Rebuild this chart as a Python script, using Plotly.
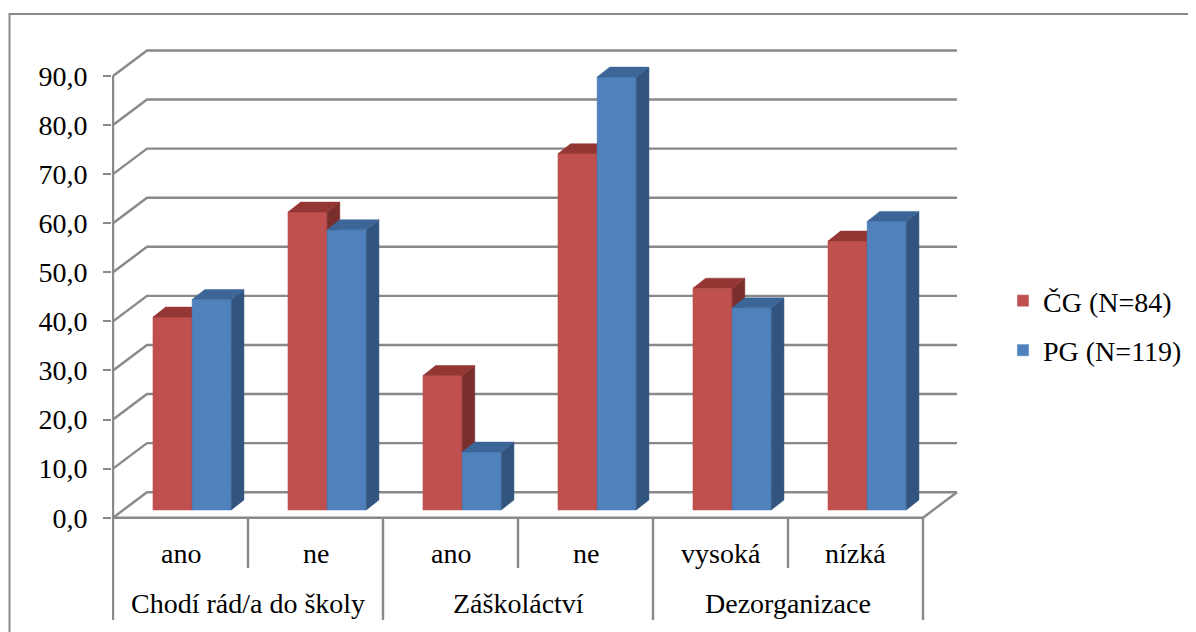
import plotly.graph_objects as go

# data (percent of each group)
SUBCATEGORIES = ["ano", "ne", "ano", "ne", "vysoká", "nízká"]
GROUPS = ["Chodí rád/a do školy", "Záškoláctví", "Dezorganizace"]
CG = [39.3, 60.7, 27.4, 72.6, 45.2, 54.8]
PG = [42.9, 57.1, 11.8, 88.2, 41.2, 58.8]
SERIES_NAMES = ["ČG (N=84)", "PG (N=119)"]
Y_TICKS = [0, 10, 20, 30, 40, 50, 60, 70, 80, 90]

# front, side, top face colours
FACE_COLORS = [
    ("#C0504D", "#7A2F2D", "#943634"),
    ("#4F81BD", "#32557F", "#3C6697"),
]
GRID = "#898989"
FONT = "Liberation Serif"
FONT_SIZE = 28

# page body has an 8px margin, so the figure starts at (8, 8) on screen
PAGE_OFF = 8
SCREEN_W, SCREEN_H = 1196, 632
W, H = SCREEN_W - PAGE_OFF, SCREEN_H - PAGE_OFF
PLOT_L, PLOT_T = 112, 40  # screen pixels

# screen-pixel geometry of the pseudo 3-D frame
PX_X0, PX_CAT = 113, 135.0
PX_Y0, PX_UNIT = 517.7, 4.908


def xd(px):
    return (px - PX_X0) / PX_CAT


def yd(py):
    return (PX_Y0 - py) / PX_UNIT


WALL_DX, WALL_DY = 34 / PX_CAT, 25.5 / PX_UNIT
BAR_DX, BAR_DY = 12.7 / PX_CAT, 10 / PX_UNIT
BAR_BASE = 7.7 / PX_UNIT
BAR_W = 0.29
BAR_OFF = 0.296

n = len(SUBCATEGORIES)
fig = go.Figure()

# back wall gridlines with the diagonal from the front axis
gx, gy = [], []
for v in Y_TICKS:
    gx += [0, WALL_DX, n + WALL_DX, None]
    gy += [v, v + WALL_DY, v + WALL_DY, None]
# floor front edge and right diagonal
gx += [0, n, n + WALL_DX, None]
gy += [0, 0, WALL_DY, None]
# front value axis
gx += [0, 0, None]
gy += [0, Y_TICKS[-1], None]
# category table lines below the floor
sub_bottom, grp_bottom = yd(568), yd(620)
gx += [0, 0, None]
gy += [0, grp_bottom, None]
for i in range(1, n + 1):
    gx += [i, i, None]
    gy += [0, grp_bottom if i % 2 == 0 else sub_bottom, None]

fig.add_trace(go.Scatter(
    x=gx, y=gy, mode="lines", line=dict(color=GRID, width=2.4),
    hoverinfo="skip", showlegend=False,
))

# 3-D columns: front, side and top faces
for i in range(n):
    for s, values in enumerate([CG, PG]):
        front_c, side_c, top_c = FACE_COLORS[s]
        xl = i + BAR_OFF + s * BAR_W
        xr = xl + BAR_W
        yb = BAR_BASE
        yt = BAR_BASE + values[i]
        faces = [
            ([xl, xr, xr, xl, xl], [yb, yb, yt, yt, yb], front_c),
            ([xr, xr + BAR_DX, xr + BAR_DX, xr, xr],
             [yb, yb + BAR_DY, yt + BAR_DY, yt, yb], side_c),
            ([xl, xl + BAR_DX, xr + BAR_DX, xr, xl],
             [yt, yt + BAR_DY, yt + BAR_DY, yt, yt], top_c),
        ]
        for fx, fy, c in faces:
            fig.add_trace(go.Scatter(
                x=fx, y=fy, fill="toself", fillcolor=c, mode="lines",
                line=dict(color=c, width=0.5), name=SERIES_NAMES[s],
                hoverinfo="name+y", showlegend=False,
            ))

# legend entries
for s, name in enumerate(SERIES_NAMES):
    fig.add_trace(go.Bar(
        x=[None], y=[None], name=name, marker_color=FACE_COLORS[s][0],
        legendgroup=name,
    ))

# category labels
annotations = []
for i, lab in enumerate(SUBCATEGORIES):
    annotations.append(dict(
        x=i + 0.5, y=yd(553), text=lab, showarrow=False,
        font=dict(family=FONT, size=FONT_SIZE, color="black"),
    ))
for g, lab in enumerate(GROUPS):
    annotations.append(dict(
        x=2 * g + 1, y=yd(603), text=lab, showarrow=False,
        font=dict(family=FONT, size=FONT_SIZE, color="black"),
    ))

plot_w, plot_h = SCREEN_W - PLOT_L, SCREEN_H - PLOT_T

fig.update_layout(
    width=W, height=H, autosize=False,
    margin=dict(l=PLOT_L - PAGE_OFF, r=0, t=PLOT_T - PAGE_OFF, b=0),
    paper_bgcolor="white", plot_bgcolor="white",
    separators=", ",
    font=dict(family=FONT, size=FONT_SIZE, color="black"),
    annotations=annotations,
    legend=dict(
        x=(1003 - PLOT_L) / plot_w, y=(SCREEN_H - 276) / plot_h,
        xanchor="left", yanchor="top",
        font=dict(family=FONT, size=FONT_SIZE, color="black"),
        tracegroupgap=10, bgcolor="rgba(0,0,0,0)",
    ),
    shapes=[dict(
        type="rect", xref="paper", yref="paper",
        x0=(PAGE_OFF + 1.5 - PLOT_L) / plot_w, x1=1.02,
        y0=-0.02, y1=(SCREEN_H - 14) / plot_h,
        line=dict(color=GRID, width=2),
    )],
)
fig.update_xaxes(visible=False, range=[xd(PLOT_L), xd(SCREEN_W)])
fig.update_yaxes(
    range=[yd(SCREEN_H), yd(PLOT_T)], tickvals=Y_TICKS, tickformat=".1f",
    ticks="outside", ticklen=8, tickwidth=2, tickcolor=GRID,
    ticklabelstandoff=10, showline=False, showgrid=False, zeroline=False,
    automargin=False, tickfont=dict(family=FONT, size=FONT_SIZE, color="black"),
)

fig.write_html("out.html")
